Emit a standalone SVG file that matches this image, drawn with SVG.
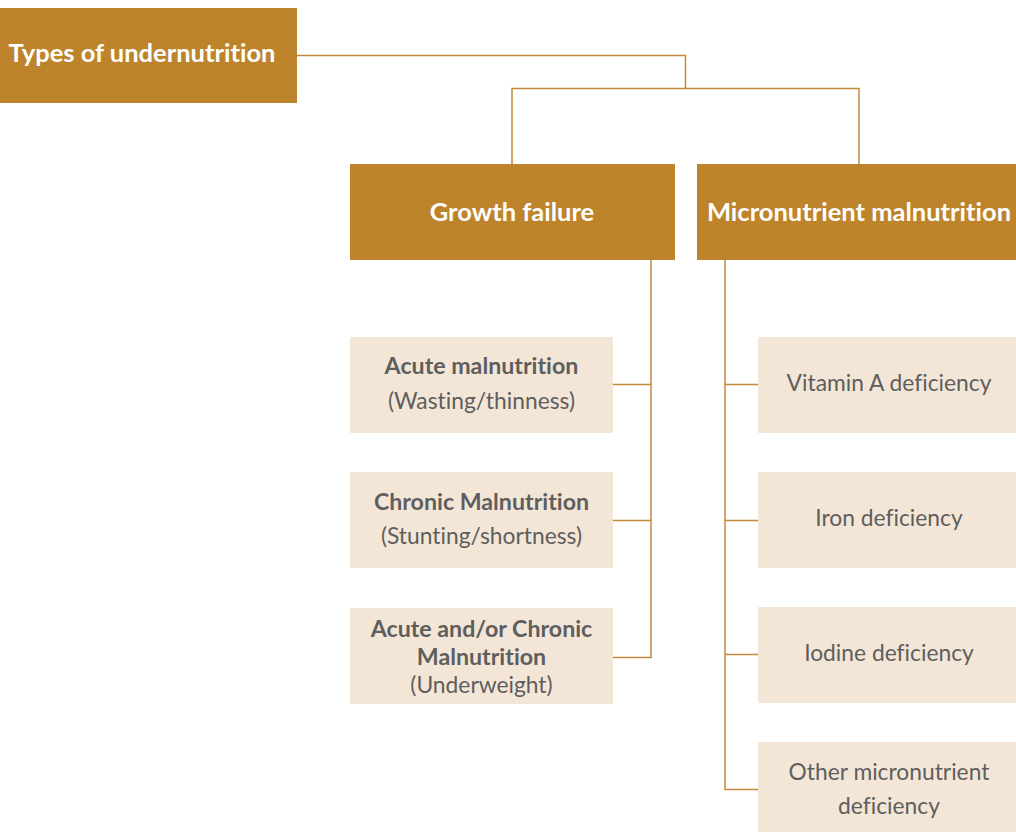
<svg xmlns="http://www.w3.org/2000/svg" width="1016" height="832" viewBox="0 0 1016 832">
  <style>
    text { font-variant-ligatures: none; font-feature-settings: "liga" 0, "clig" 0; }
    .dark { fill: #BE842B; }
    .light { fill: #F3E6D6; }
    .head { font-family: Lato, "Open Sans", sans-serif; font-weight: bold; font-size: 25.5px; fill: #FFFFFF; text-anchor: middle; }
    .t { font-family: Lato, "Open Sans", sans-serif; font-size: 22.8px; fill: #5E5E5E; text-anchor: middle; }
    .b { font-weight: bold; font-size: 23.2px; }
    .wire { fill: none; stroke: #C18B3B; stroke-width: 1.5; }
  </style>
  <rect width="1016" height="832" fill="#FFFFFF"/>

  <!-- connectors -->
  <g id="connectors">
    <path class="wire" d="M297 55.5 H685.5 V88.5"/>
    <path class="wire" d="M512 164 V88.5 H859 V164"/>
    <path class="wire" d="M651 260 V657.5 H613"/>
    <path class="wire" d="M613 384.5 H651"/>
    <path class="wire" d="M613 520.5 H651"/>
    <path class="wire" d="M725 260 V789.5 H758"/>
    <path class="wire" d="M725 384.5 H758"/>
    <path class="wire" d="M725 520.5 H758"/>
    <path class="wire" d="M725 654.5 H758"/>
  </g>

  <g id="root">
    <rect class="dark" x="0" y="8" width="297" height="95"/>
    <text class="head" x="142" y="62">Types of undernutrition</text>
  </g>

  <g id="growth-failure">
    <rect class="dark" x="350" y="164" width="325" height="96"/>
    <text class="head" x="512" y="221">Growth failure</text>
  </g>

  <g id="micronutrient-malnutrition">
    <rect class="dark" x="697" y="164" width="319" height="96"/>
    <text class="head" x="859" y="221">Micronutrient malnutrition</text>
  </g>

  <g id="acute">
    <rect class="light" x="350" y="337" width="263" height="96"/>
    <text class="t b" x="481.5" y="374">Acute malnutrition</text>
    <text class="t" x="481.5" y="409">(Wasting/thinness)</text>
  </g>

  <g id="chronic">
    <rect class="light" x="350" y="472" width="263" height="96"/>
    <text class="t b" x="481.5" y="510">Chronic Malnutrition</text>
    <text class="t" x="481.5" y="544">(Stunting/shortness)</text>
  </g>

  <g id="acute-chronic">
    <rect class="light" x="350" y="608" width="263" height="96"/>
    <text class="t b" x="481.5" y="637">Acute and/or Chronic</text>
    <text class="t b" x="481.5" y="665">Malnutrition</text>
    <text class="t" x="481.5" y="693">(Underweight)</text>
  </g>

  <g id="vitamin-a">
    <rect class="light" x="758" y="337" width="258" height="96"/>
    <text class="t" x="889" y="391">Vitamin A deficiency</text>
  </g>

  <g id="iron">
    <rect class="light" x="758" y="472" width="258" height="96"/>
    <text class="t" x="889" y="526">Iron deficiency</text>
  </g>

  <g id="iodine">
    <rect class="light" x="758" y="607" width="258" height="96"/>
    <text class="t" x="889" y="661">Iodine deficiency</text>
  </g>

  <g id="other">
    <rect class="light" x="758" y="742" width="258" height="90"/>
    <text class="t" x="889" y="780">Other micronutrient</text>
    <text class="t" x="889" y="814">deficiency</text>
  </g>
</svg>
